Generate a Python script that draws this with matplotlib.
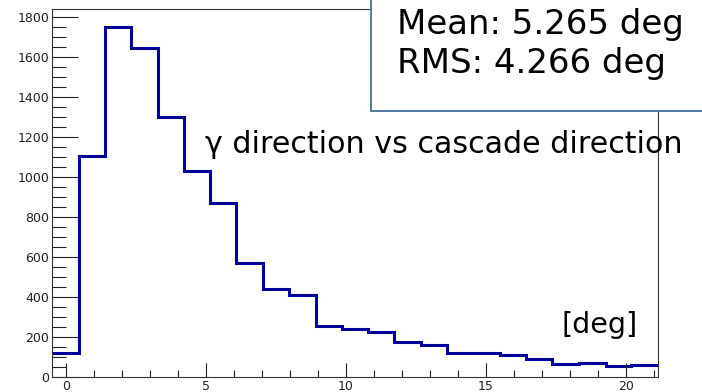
import numpy as np
from matplotlib import pyplot as plt
from matplotlib.ticker import MultipleLocator
from matplotlib.patches import Rectangle

# Bin edges [deg] and counts
edges = [-0.5, 0.47, 1.39, 2.32, 3.27, 4.21, 5.16, 6.08, 7.03, 7.96, 8.93, 9.87,
         10.79, 11.72, 12.67, 13.61, 14.56, 15.5, 16.45, 17.37, 18.31, 19.28, 20.2, 21.15]
counts = [120, 1105, 1752, 1645, 1298, 1030, 871, 571, 438, 408, 253, 238, 227,
          173, 160, 122, 120, 108, 90, 67, 72, 57, 62]

mean_txt = 'Mean: 5.265 deg'
rms_txt = 'RMS: 4.266 deg'
title_txt = 'γ direction vs cascade direction'
unit_txt = '[deg]'

dpi = 100
fig = plt.figure(figsize=(702 / dpi, 392 / dpi), dpi=dpi)
ax = fig.add_axes([52 / 702, 15 / 392, 606 / 702, 368 / 392])

ax.stairs(counts, edges, baseline=None, color='#000099', lw=2.2)
ax.set_xlim(-0.5, 21.15)
ax.set_ylim(0, 1840)

ax.xaxis.set_major_locator(MultipleLocator(5))
ax.xaxis.set_minor_locator(MultipleLocator(1))
ax.yaxis.set_major_locator(MultipleLocator(200))
ax.yaxis.set_minor_locator(MultipleLocator(50))
ax.tick_params(axis='both', which='both', direction='in', top=False, right=False,
               labelsize=9, pad=2, width=0.8, color='#222222', labelcolor='#222222')
ax.tick_params(axis='x', which='major', length=10)
ax.tick_params(axis='x', which='minor', length=5)
ax.tick_params(axis='y', which='major', length=19)
ax.tick_params(axis='y', which='minor', length=10)
for s in ax.spines.values():
    s.set_linewidth(0.8)
    s.set_color('#333333')

# Stats box covering the top right corner
fig.patches.append(Rectangle((371 / 702, 1 - 111 / 392), 0.5, 0.5, transform=fig.transFigure,
                             facecolor='white', edgecolor='#41719C', lw=1.3, zorder=5))
fig.text(397 / 702, 1 - 34 / 392, mean_txt, fontsize=24.5, zorder=6)
fig.text(397 / 702, 1 - 73 / 392, rms_txt, fontsize=24.5, zorder=6)
fig.text(205 / 702, 1 - 153 / 392, title_txt, fontsize=21.7, zorder=6)
fig.text(562 / 702, 1 - 333 / 392, unit_txt, fontsize=20.5, zorder=6)

fig.savefig('out.png', dpi=dpi)
